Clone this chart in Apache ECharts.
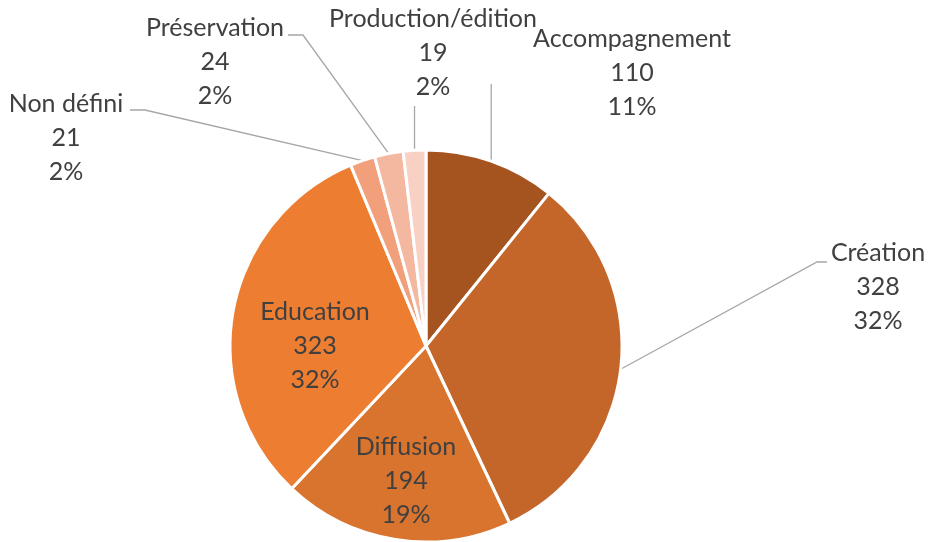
<!DOCTYPE html>
<html>
<head>
<meta charset="utf-8">
<script src="https://cdn.jsdelivr.net/npm/echarts@6/dist/echarts.min.js"></script>
<style>
  html, body { margin: 0; padding: 0; background: #fff; }
  #main { width: 944px; height: 542px; }
</style>
</head>
<body>
<div id="main"></div>
<script>
// données
var categories = ['Accompagnement', 'Création', 'Diffusion', 'Education', 'Non défini', 'Préservation', 'Production/édition'];
var values = [110, 328, 194, 323, 21, 24, 19];
var colors = ['#A5541F', '#C4662A', '#D9742E', '#ED7D31', '#F1A07B', '#F4B8A1', '#F8D0C4'];

// position des étiquettes (centre du bloc de texte) et coudes des lignes de rappel
var labelPos = {
  'Accompagnement': { at: [632, 73], line: [['x', 84]] },
  'Création': { at: [878, 287], line: [[817, 262], [827, 262]] },
  'Diffusion': { at: [406, 481] },
  'Education': { at: [315, 346] },
  'Non défini': { at: [66, 138], line: [[145, 110], [130, 110]] },
  'Préservation': { at: [215, 62], line: [[303, 35], [288, 35]] },
  'Production/édition': { at: [433, 53], line: [['x', 106]] }
};
var insideLabels = ['Diffusion', 'Education'];

var myChart = echarts.init(document.getElementById('main'));

var data = categories.map(function (name, i) {
  var item = { name: name, value: values[i], itemStyle: { color: colors[i] } };
  if (insideLabels.indexOf(name) >= 0) {
    item.labelLine = { show: false };
  }
  return item;
});

var option = {
  animation: false,
  series: [
    {
      type: 'pie',
      center: [426, 346],
      radius: 196,
      startAngle: 90,
      clockwise: true,
      percentPrecision: 0,
      itemStyle: { borderColor: '#fff', borderWidth: 3 },
      label: {
        formatter: '{b}\n{c}\n{d}%',
        fontFamily: 'Lato',
        fontSize: 25,
        lineHeight: 34,
        color: '#404040'
      },
      labelLine: {
        show: true,
        length: 20,
        length2: 10,
        lineStyle: { color: '#A6A6A6', width: 1.3 }
      },
      labelLayout: function (params) {
        var cfg = labelPos[categories[params.dataIndex]];
        var res = { x: cfg.at[0], y: cfg.at[1], align: 'center', verticalAlign: 'middle' };
        if (cfg.line && params.labelLinePoints) {
          var start = params.labelLinePoints[0];
          var pts = [[start[0], start[1]]];
          cfg.line.forEach(function (p) {
            pts.push([p[0] === 'x' ? start[0] : p[0], p[1]]);
          });
          res.labelLinePoints = pts;
        }
        return res;
      },
      data: data
    }
  ]
};

myChart.setOption(option);
</script>
</body>
</html>
